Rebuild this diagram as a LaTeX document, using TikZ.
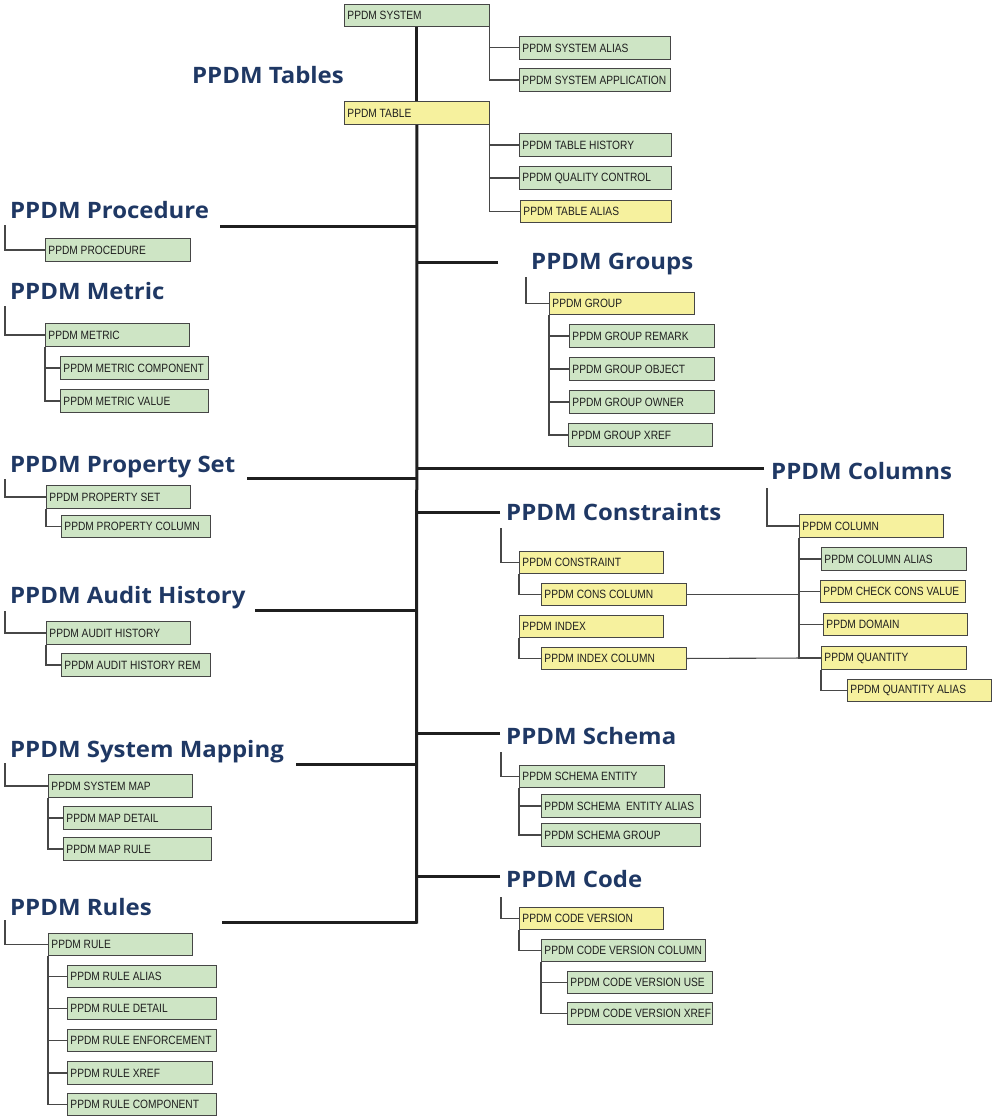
\documentclass[tikz,border=0pt]{standalone}
\usepackage{fontspec}
\usetikzlibrary{shadows}
\newfontfamily\boxfont[FakeStretch=0.85]{Liberation Sans}
\newfontfamily\headfont[FakeStretch=1.06]{Open Sans}
\definecolor{bxgreen}{RGB}{206,229,197}
\definecolor{bxyellow}{RGB}{246,241,158}
\definecolor{bxborder}{RGB}{70,70,70}
\definecolor{headblue}{RGB}{31,56,100}
\tikzset{
  bxs/.style={anchor=north west, draw=bxborder, line width=0.9pt, inner xsep=3pt, inner ysep=0pt,
    font=\boxfont\fontsize{12}{12}\selectfont, text=black!88,
    drop shadow={shadow xshift=0.9pt, shadow yshift=-0.9pt, fill=black!45, opacity=1}},
  head/.style={anchor=base west, inner sep=0pt, text=headblue, font=\headfont\bfseries\fontsize{22.6}{22.6}\selectfont},
  trunk/.style={line width=3pt, black!88},
  conn/.style={line width=1.1pt, black!72},
}
\newcommand\bx[7]{%
  \pgfmathsetmacro\bxw{#4-#2}\pgfmathsetmacro\bxh{#5-#3}\pgfmathsetmacro\bxt{#4-#2-6}%
  \node[bxs, fill=#6, minimum width=\bxw pt, minimum height=\bxh pt] (#1) at (#2,#3) {\makebox[\bxt pt][l]{#7}};}
\begin{document}
\begin{tikzpicture}[x=1pt,y=-1pt]
\useasboundingbox (0,0) rectangle (1000,1116);
% ---------- headings
\node[head] (hTables) at (192,84) {PPDM Tables};
\node[head] (hProc) at (10,218) {PPDM Procedure};
\node[head] (hMetric) at (10,299) {PPDM Metric};
\node[head] (hProp) at (10,472) {PPDM Property Set};
\node[head] (hAudit) at (10,603) {PPDM Audit History};
\node[head] (hMap) at (10,757) {PPDM System Mapping};
\node[head] (hRules) at (10,915) {PPDM Rules};
\node[head] (hGroups) at (531,269) {PPDM Groups};
\node[head] (hCols) at (771,479) {PPDM Columns};
\node[head] (hCons) at (506,520) {PPDM Constraints};
\node[head] (hSchema) at (506,744) {PPDM Schema};
\node[head] (hCode) at (506,887) {PPDM Code};
% ---------- boxes: top
\bx{sys}{344}{4}{489}{26}{bxgreen}{PPDM SYSTEM}
\bx{sysalias}{519}{36}{670}{59}{bxgreen}{PPDM SYSTEM ALIAS}
\bx{sysapp}{519}{68}{670}{91}{bxgreen}{PPDM SYSTEM APPLICATION}
\bx{tab}{344}{101}{489}{124}{bxyellow}{PPDM TABLE}
\bx{tabhist}{519}{133}{671}{156}{bxgreen}{PPDM TABLE HISTORY}
\bx{qc}{519}{166}{671}{189}{bxgreen}{PPDM QUALITY CONTROL}
\bx{tabalias}{520}{200}{671}{222}{bxyellow}{PPDM TABLE ALIAS}
% left side
\bx{proc}{45}{238}{190}{261}{bxgreen}{PPDM PROCEDURE}
\bx{met}{45}{323}{189}{346}{bxgreen}{PPDM METRIC}
\bx{metcomp}{60}{356}{208}{379}{bxgreen}{PPDM METRIC COMPONENT}
\bx{metval}{60}{389}{208}{412}{bxgreen}{PPDM METRIC VALUE}
\bx{pset}{46}{485}{190}{508}{bxgreen}{PPDM PROPERTY SET}
\bx{pcol}{61}{515}{210}{537}{bxgreen}{PPDM PROPERTY COLUMN}
\bx{aud}{46}{621}{190}{644}{bxgreen}{PPDM AUDIT HISTORY}
\bx{audrem}{61}{653}{210}{676}{bxgreen}{PPDM AUDIT HISTORY REM}
\bx{smap}{48}{774}{192}{797}{bxgreen}{PPDM SYSTEM MAP}
\bx{mapdet}{63}{806}{211}{829}{bxgreen}{PPDM MAP DETAIL}
\bx{maprule}{63}{837}{211}{860}{bxgreen}{PPDM MAP RULE}
\bx{rule}{48}{933}{192}{955}{bxgreen}{PPDM RULE}
\bx{rulealias}{67}{965}{216}{987}{bxgreen}{PPDM RULE ALIAS}
\bx{ruledet}{67}{997}{216}{1019}{bxgreen}{PPDM RULE DETAIL}
\bx{ruleenf}{67}{1029}{216}{1051}{bxgreen}{PPDM RULE ENFORCEMENT}
\bx{rulexref}{67}{1061}{212}{1084}{bxgreen}{PPDM RULE XREF}
\bx{rulecomp}{67}{1093}{216}{1115}{bxgreen}{PPDM RULE COMPONENT}
% right side: groups
\bx{grp}{549}{292}{694}{314}{bxyellow}{PPDM GROUP}
\bx{grprem}{569}{324}{714}{347}{bxgreen}{PPDM GROUP REMARK}
\bx{grpobj}{569}{357}{714}{380}{bxgreen}{PPDM GROUP OBJECT}
\bx{grpown}{569}{390}{714}{413}{bxgreen}{PPDM GROUP OWNER}
\bx{grpxref}{568}{423}{712}{446}{bxgreen}{PPDM GROUP XREF}
% columns
\bx{col}{799}{514}{943}{537}{bxyellow}{PPDM COLUMN}
\bx{colalias}{821}{547}{966}{570}{bxgreen}{PPDM COLUMN ALIAS}
\bx{chk}{820}{580}{965}{602}{bxyellow}{PPDM CHECK CONS VALUE}
\bx{dom}{823}{613}{967}{635}{bxyellow}{PPDM DOMAIN}
\bx{qty}{821}{646}{966}{669}{bxyellow}{PPDM QUANTITY}
\bx{qtyalias}{847}{679}{991}{701}{bxyellow}{PPDM QUANTITY ALIAS}
% constraints
\bx{cons}{519}{551}{663}{573}{bxyellow}{PPDM CONSTRAINT}
\bx{conscol}{541}{583}{686}{605}{bxyellow}{PPDM CONS COLUMN}
\bx{idx}{519}{615}{663}{637}{bxyellow}{PPDM INDEX}
\bx{idxcol}{541}{647}{686}{669}{bxyellow}{PPDM INDEX COLUMN}
% schema
\bx{ent}{519}{765}{664}{787}{bxgreen}{PPDM SCHEMA ENTITY}
\bx{entalias}{541}{794}{700}{817}{bxgreen}{PPDM SCHEMA\ \ ENTITY ALIAS}
\bx{sgrp}{541}{823}{700}{846}{bxgreen}{PPDM SCHEMA GROUP}
% code
\bx{cv}{519}{907}{663}{929}{bxyellow}{PPDM CODE VERSION}
\bx{cvc}{541}{939}{705}{961}{bxgreen}{PPDM CODE VERSION COLUMN}
\bx{cvuse}{567}{971}{712}{993}{bxgreen}{PPDM CODE VERSION USE}
\bx{cvxref}{567}{1002}{712}{1024}{bxgreen}{PPDM CODE VERSION XREF}
% ---------- trunk and branches
\coordinate (tEnd) at (416.5,923.5);
\draw[trunk] (sys.south) -- (tab.north);
\draw[trunk] (tab.south) -- (tEnd);
\coordinate (bProc) at (220,226);
\coordinate (bGroups) at (498,262);
\coordinate (bProp) at (247,478);
\coordinate (bCols) at (764,468);
\coordinate (bCons) at (500,512);
\coordinate (bAudit) at (255,610);
\coordinate (bSchema) at (500,733);
\coordinate (bMap) at (296,764);
\coordinate (bCode) at (500,876);
\coordinate (bRules) at (222,922);
\foreach \b in {bProc,bGroups,bProp,bCols,bCons,bAudit,bSchema,bMap,bCode,bRules}
  \draw[trunk] (\b) -- (\b -| tab.south);
% ---------- heading connectors
\coordinate (pProc) at (5,225);
\coordinate (pMetric) at (5,306);
\coordinate (pProp) at (5,479);
\coordinate (pAudit) at (5,611);
\coordinate (pMap) at (5,763);
\coordinate (pRules) at (5,920);
\coordinate (pGroups) at (526,277);
\coordinate (pCols) at (767,488);
\coordinate (pCons) at (501,528);
\coordinate (pSchema) at (501,752);
\coordinate (pCode) at (501,897);
\draw[conn] (pProc) |- (proc.west);
\draw[conn] (pMetric) |- (met.west);
\draw[conn] (pProp) |- (pset.west);
\draw[conn] (pAudit) |- (aud.west);
\draw[conn] (pMap) |- (smap.west);
\draw[conn] (pRules) |- (rule.west);
\draw[conn] (pGroups) |- (grp.west);
\draw[conn] (pCols) |- (col.west);
\draw[conn] (pCons) |- (cons.west);
\draw[conn] (pSchema) |- (ent.west);
\draw[conn] (pCode) |- (cv.west);
% ---------- box connectors
\foreach \c in {sysalias,sysapp} \draw[conn] (sys.south east) |- (\c.west);
\foreach \c in {tabhist,qc,tabalias} \draw[conn] (tab.south east) |- (\c.west);
\foreach \c in {metcomp,metval} \draw[conn] (met.south west) |- (\c.west);
\draw[conn] (pset.south west) |- (pcol.west);
\draw[conn] (aud.south west) |- (audrem.west);
\foreach \c in {mapdet,maprule} \draw[conn] (smap.south west) |- (\c.west);
\foreach \c in {rulealias,ruledet,ruleenf,rulexref,rulecomp} \draw[conn] (rule.south west) |- (\c.west);
\foreach \c in {grprem,grpobj,grpown,grpxref} \draw[conn] (grp.south west) |- (\c.west);
\foreach \c in {colalias,chk,dom,qty} \draw[conn] (col.south west) |- (\c.west);
\draw[conn] (qty.south west) |- (qtyalias.west);
\draw[conn] (cons.south west) |- (conscol.west);
\draw[conn] (idx.south west) |- (idxcol.west);
\draw[conn] (conscol.east) -- (conscol.east -| col.south west);
\draw[conn] (idxcol.east) -- (qty.west);
\foreach \c in {entalias,sgrp} \draw[conn] (ent.south west) |- (\c.west);
\draw[conn] (cv.south west) |- (cvc.west);
\foreach \c in {cvuse,cvxref} \draw[conn] (cvc.south west) |- (\c.west);
\end{tikzpicture}
\end{document}
